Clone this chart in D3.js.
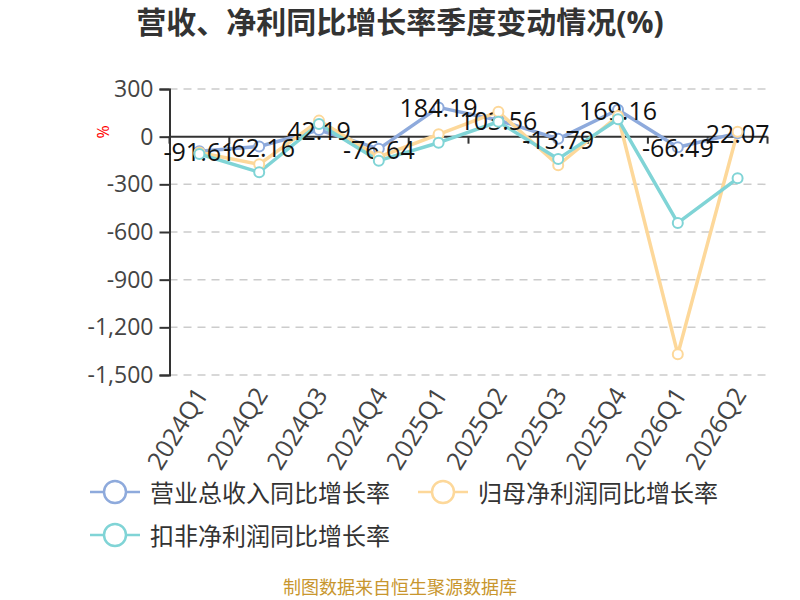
<!DOCTYPE html>
<html><head><meta charset="utf-8">
<script src="https://cdn.jsdelivr.net/npm/d3@7"></script>
<style>body{margin:0;background:#fff}svg{display:block}text{font-family:"Open Sans","Noto Sans CJK SC",sans-serif}</style>
</head><body>
<svg id="c" width="800" height="600"></svg>
<script>
const categories = ["2024Q1","2024Q2","2024Q3","2024Q4","2025Q1","2025Q2","2025Q3","2025Q4","2026Q1","2026Q2"];
const revenueGrowth = [-91.61,-62.16,42.19,-76.64,184.19,103.56,-13.79,169.16,-66.49,22.07];
const netProfitGrowth = [-100,-174,101,-128,15,157,-180,130,-1369,31];
const deductedProfitGrowth = [-109,-224,80,-151,-38,94,-140,110,-543,-262];
const yTicks = [300,0,-300,-600,-900,-1200,-1500];
const seriesNames = ["营业总收入同比增长率","归母净利润同比增长率","扣非净利润同比增长率"];
const colors = ["#8eaadc","#fdd89a","#80d4d6"];
const title = "营收、净利同比增长率季度变动情况(%)";
const footer = "制图数据来自恒生聚源数据库";

const svg = d3.select("#c");
const L = 169.5, R = 767.5, T = 89, B = 375;
const x = d3.scaleBand().domain(categories).range([L, R]);
const y = d3.scaleLinear().domain([-1500, 300]).range([B, T]);
const cx = d => x(d) + x.bandwidth() / 2;
const fmtTick = d => d3.format(",")(d).replace("\u2212", "-");
const fmtLabel = d => d3.format(".2f")(d).replace("\u2212", "-");

// title
svg.append("text").attr("x", 400).attr("y", 33).attr("text-anchor", "middle")
  .attr("font-size", 30).attr("font-weight", "bold").attr("fill", "#333").text(title);

// grid
svg.append("g").selectAll("line").data(yTicks.filter(v => v !== 0)).join("line")
  .attr("x1", L).attr("x2", R).attr("y1", d => y(d)).attr("y2", d => y(d))
  .attr("stroke", "#ccc").attr("stroke-width", 1.5).attr("stroke-dasharray", "8,6");

// y axis
const yAxis = svg.append("g").attr("transform", `translate(${L},0)`)
  .call(d3.axisLeft(y).tickValues(yTicks).tickSize(10).tickPadding(6).tickFormat(fmtTick));
yAxis.select(".domain").attr("stroke", "#333").attr("stroke-width", 2);
yAxis.selectAll(".tick line").attr("stroke", "#333").attr("stroke-width", 2);
yAxis.selectAll(".tick text").attr("font-size", 23).attr("fill", "#444").attr("font-family", "'Open Sans',sans-serif");

// y name
svg.append("text").attr("transform", `translate(105,132) rotate(-90)`).attr("text-anchor", "middle")
  .attr("dominant-baseline", "middle").attr("font-size", 16).attr("fill", "red").text("%");

// x axis line at zero
const x0 = y(0);
svg.append("line").attr("x1", L).attr("x2", R).attr("y1", x0).attr("y2", x0)
  .attr("stroke", "#333").attr("stroke-width", 2);
const bounds = categories.map(c => x(c)).concat([R]);
svg.append("g").selectAll("line").data(bounds).join("line")
  .attr("x1", d => d).attr("x2", d => d).attr("y1", x0).attr("y2", x0 + 7)
  .attr("stroke", "#333").attr("stroke-width", 2);

// x labels at bottom
svg.append("g").selectAll("text").data(categories).join("text")
  .attr("transform", d => `translate(${cx(d) + 4},${B + 16}) rotate(-58)`)
  .attr("text-anchor", "end").attr("dominant-baseline", "middle")
  .attr("font-size", 25).attr("fill", "#444").text(d => d);

const allSeries = [revenueGrowth, netProfitGrowth, deductedProfitGrowth];
const line = d3.line().x((d, i) => cx(categories[i])).y(d => y(d));
// lines
allSeries.forEach((s, k) => {
  svg.append("path").datum(s).attr("d", line).attr("fill", "none")
    .attr("stroke", colors[k]).attr("stroke-width", 3.5).attr("stroke-linejoin", "round");
});
function symbols(s, k) {
  svg.append("g").selectAll("circle").data(s).join("circle")
    .attr("cx", (d, i) => cx(categories[i])).attr("cy", d => y(d)).attr("r", 5)
    .attr("fill", "#fff").attr("stroke", colors[k]).attr("stroke-width", 2);
}
symbols(revenueGrowth, 0);
// data labels of first series
svg.append("g").selectAll("text").data(revenueGrowth).join("text")
  .attr("x", (d, i) => cx(categories[i])).attr("y", d => y(d))
  .attr("text-anchor", "middle").attr("dominant-baseline", "central")
  .attr("font-size", 25).attr("fill", "#111").text(fmtLabel);
symbols(netProfitGrowth, 1);
symbols(deductedProfitGrowth, 2);

// legend
const legendPos = [[90, 492], [418, 492], [90, 535]];
seriesNames.forEach((n, k) => {
  const [lx, ly] = legendPos[k];
  const g = svg.append("g");
  g.append("line").attr("x1", lx).attr("x2", lx + 50).attr("y1", ly).attr("y2", ly)
    .attr("stroke", colors[k]).attr("stroke-width", 2.5);
  g.append("circle").attr("cx", lx + 25).attr("cy", ly).attr("r", 11)
    .attr("fill", "#fff").attr("stroke", colors[k]).attr("stroke-width", 2.5);
  g.append("text").attr("x", lx + 60).attr("y", ly).attr("dominant-baseline", "central")
    .attr("font-size", 24).attr("fill", "#333").attr("font-family", "'Noto Sans CJK SC',sans-serif").text(n);
});

svg.append("text").attr("x", 400).attr("y", 587).attr("text-anchor", "middle")
  .attr("dominant-baseline", "central").attr("font-size", 18).attr("fill", "#c8962e")
  .attr("font-family", "'Noto Sans CJK SC',sans-serif").text(footer);
</script>
</body></html>
